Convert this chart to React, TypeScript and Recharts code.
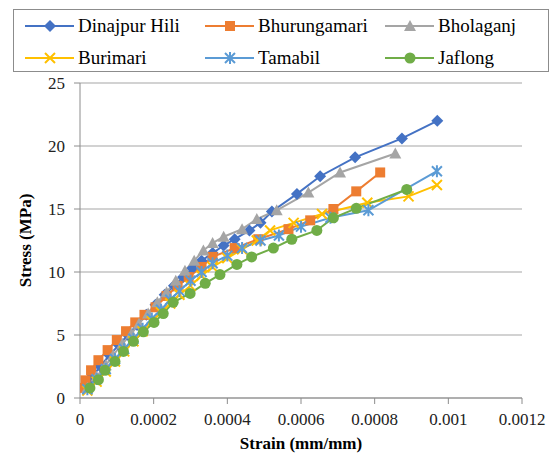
import { LineChart, Line, XAxis, YAxis, CartesianGrid } from 'recharts';

type Pt = { x: number; y: number };
const toPts = (arr: number[][]): Pt[] => arr.map(([x, y]) => ({ x, y }));

// strain (mm/mm), stress (MPa) pairs
const dinajpurHili = [
  [0.00001, 0.8], [0.00003, 1.6], [0.000055, 2.5], [0.00008, 3.4], [0.000105, 4.2],
  [0.00013, 5.0], [0.000155, 5.8], [0.00018, 6.6], [0.000205, 7.4], [0.00023, 8.2],
  [0.000255, 8.9], [0.00028, 9.6], [0.000305, 10.3], [0.00033, 10.9], [0.00036, 11.5],
  [0.00039, 12.1], [0.00042, 12.6], [0.00046, 13.3], [0.00049, 13.9], [0.000521, 14.8],
  [0.000589, 16.2], [0.000652, 17.6], [0.000747, 19.1], [0.000874, 20.6], [0.00097, 22.0],
];
const bhurungamari = [
  [0.000005, 0.8], [0.000015, 1.4], [0.00003, 2.2], [0.00005, 3.0], [0.000075, 3.8],
  [0.0001, 4.6], [0.000125, 5.3], [0.00015, 6.0], [0.000175, 6.6], [0.000205, 7.2],
  [0.000235, 8.1], [0.000265, 8.9], [0.000295, 9.6], [0.00033, 10.4], [0.00036, 11.2],
  [0.00042, 11.9], [0.000484, 12.6], [0.000566, 13.4], [0.000625, 14.1], [0.000688, 15.0],
  [0.00075, 16.4], [0.000815, 17.9],
];
const bholaganj = [
  [0.00002, 0.8], [0.000045, 1.7], [0.00007, 2.6], [0.00009, 3.4], [0.000115, 4.3],
  [0.00014, 5.1], [0.00016, 5.9], [0.000185, 6.7], [0.00021, 7.6], [0.000235, 8.4],
  [0.00026, 9.3], [0.000285, 10.1], [0.00031, 10.9], [0.000335, 11.7], [0.00036, 12.3],
  [0.00039, 12.8], [0.00044, 13.4], [0.00048, 14.2], [0.000534, 14.9], [0.00062, 16.3],
  [0.000706, 17.9], [0.000856, 19.4],
];
const burimari = [
  [0.00002, 0.6], [0.000045, 1.3], [0.00007, 2.1], [0.000095, 2.9], [0.00012, 3.7],
  [0.000145, 4.5], [0.00017, 5.3], [0.000195, 6.1], [0.00022, 6.8], [0.000245, 7.5],
  [0.00027, 8.2], [0.0003, 8.9], [0.00033, 9.7], [0.00036, 10.4], [0.0004, 11.1],
  [0.00044, 11.8], [0.00048, 12.5], [0.000516, 13.3], [0.00058, 13.9], [0.000657, 14.6],
  [0.00078, 15.5], [0.000892, 16.0], [0.000969, 16.9],
];
const tamabil = [
  [0.00002, 0.7], [0.000045, 1.5], [0.00007, 2.3], [0.000095, 3.1], [0.00012, 3.9],
  [0.000145, 4.7], [0.00017, 5.5], [0.000195, 6.3], [0.00022, 7.0], [0.000245, 7.8],
  [0.00027, 8.5], [0.0003, 9.3], [0.00033, 10.0], [0.00036, 10.7], [0.0004, 11.3],
  [0.00044, 11.9], [0.00049, 12.5], [0.00054, 12.9], [0.0006, 13.6], [0.00068, 14.3],
  [0.000783, 14.9], [0.000969, 18.0],
];
const jaflong = [
  [0.000027, 0.8], [0.00005, 1.45], [0.000068, 2.2], [0.000095, 2.9], [0.000118, 3.7],
  [0.000145, 4.5], [0.000172, 5.25], [0.000201, 6.0], [0.000226, 6.7], [0.000253, 7.6],
  [0.000299, 8.3], [0.00034, 9.1], [0.00038, 9.8], [0.000426, 10.6], [0.000466, 11.2],
  [0.000525, 11.9], [0.000575, 12.6], [0.000643, 13.3], [0.000688, 14.3], [0.00075, 15.05],
  [0.000887, 16.55],
];

const xTicks = [0, 0.0002, 0.0004, 0.0006, 0.0008, 0.001, 0.0012];
const yTicks = [0, 5, 10, 15, 20, 25];

const FONT = "'Liberation Serif', 'DejaVu Serif', serif";

/* ── marker shapes ─────────────────────────────── */
type Shape = 'diamond' | 'square' | 'triangle' | 'x' | 'star' | 'circle';

function Marker({ cx, cy, shape, color }: { cx: number; cy: number; shape: Shape; color: string }) {
  if (cx == null || cy == null) return null;
  switch (shape) {
    case 'diamond':
      return <path d={`M${cx},${cy - 6}L${cx + 6},${cy}L${cx},${cy + 6}L${cx - 6},${cy}Z`} fill={color} />;
    case 'square':
      return <rect x={cx - 5} y={cy - 5} width={10} height={10} fill={color} />;
    case 'triangle':
      return <path d={`M${cx},${cy - 6}L${cx + 6},${cy + 5}L${cx - 6},${cy + 5}Z`} fill={color} />;
    case 'x':
      return (
        <path d={`M${cx - 5},${cy - 5}L${cx + 5},${cy + 5}M${cx + 5},${cy - 5}L${cx - 5},${cy + 5}`}
          stroke={color} strokeWidth={2} />
      );
    case 'star':
      return (
        <path
          d={`M${cx - 5},${cy - 5}L${cx + 5},${cy + 5}M${cx + 5},${cy - 5}L${cx - 5},${cy + 5}M${cx},${cy - 6}L${cx},${cy + 6}`}
          stroke={color} strokeWidth={2} />
      );
    default:
      return <circle cx={cx} cy={cy} r={5.5} fill={color} />;
  }
}

const series: { name: string; data: number[][]; color: string; shape: Shape }[] = [
  { name: 'Dinajpur Hili', data: dinajpurHili, color: '#4472C4', shape: 'diamond' },
  { name: 'Bhurungamari', data: bhurungamari, color: '#ED7D31', shape: 'square' },
  { name: 'Bholaganj', data: bholaganj, color: '#A5A5A5', shape: 'triangle' },
  { name: 'Burimari', data: burimari, color: '#FFC000', shape: 'x' },
  { name: 'Tamabil', data: tamabil, color: '#5B9BD5', shape: 'star' },
  { name: 'Jaflong', data: jaflong, color: '#70AD47', shape: 'circle' },
];

function LegendBox() {
  const cols = [11, 191, 371];
  return (
    <div style={{
      position: 'absolute', left: 13, top: 9, width: 536, height: 63,
      border: '1.5px solid #8c8c8c', boxSizing: 'border-box', background: '#fff',
    }}>
      {series.map((s, i) => {
        const left = cols[i % 3];
        const top = i < 3 ? 3 : 35;
        return (
          <div key={s.name} style={{ position: 'absolute', left, top, height: 26, display: 'flex', alignItems: 'center' }}>
            <svg width={50} height={20}>
              <line x1={0} y1={10} x2={49} y2={10} stroke={s.color} strokeWidth={2} />
              <Marker cx={25} cy={10} shape={s.shape} color={s.color} />
            </svg>
            <span style={{ fontFamily: FONT, fontSize: 19, color: '#000', marginLeft: 3, whiteSpace: 'nowrap' }}>{s.name}</span>
          </div>
        );
      })}
    </div>
  );
}

export default function App() {
  return (
    <div style={{ position: 'absolute', left: 0, top: 0, width: 552, height: 453, background: '#fff', fontFamily: FONT }}>
      <LineChart width={552} height={453} margin={{ top: 83, right: 30, bottom: 0, left: 30 }}>
        <CartesianGrid horizontal vertical={false} stroke="#a6a6a6" strokeWidth={1.2} />
        <XAxis
          type="number" dataKey="x" domain={[0, 0.0012]} ticks={xTicks} interval={0}
          tickFormatter={(v: number) => String(v)}
          height={55} stroke="#8c8c8c" tickSize={6} tickMargin={9}
          tick={{ fill: '#222', fontFamily: FONT, fontSize: 17 }}
          label={{ value: 'Strain (mm/mm)', position: 'insideBottom', offset: 4, style: { fontFamily: FONT, fontSize: 17, fontWeight: 'bold', fill: '#000' } }}
          allowDataOverflow
        />
        <YAxis
          type="number" dataKey="y" domain={[0, 25]} ticks={yTicks} interval={0}
          width={50} stroke="#8c8c8c" tickSize={6} tickMargin={9}
          tick={{ fill: '#222', fontFamily: FONT, fontSize: 17 }}
          label={{ value: 'Stress (MPa)', angle: -90, position: 'insideLeft', offset: 0, dx: -5, style: { fontFamily: FONT, fontSize: 17, fontWeight: 'bold', fill: '#000', textAnchor: 'middle' } }}
        />
        {series.map((s) => (
          <Line
            key={s.name}
            data={toPts(s.data)}
            dataKey="y"
            name={s.name}
            type="linear"
            stroke={s.color}
            strokeWidth={2}
            isAnimationActive={false}
            dot={(p: any) => <Marker key={`${s.name}-${p.index}`} cx={p.cx} cy={p.cy} shape={s.shape} color={s.color} />}
            activeDot={false}
          />
        ))}
      </LineChart>
      <LegendBox />
    </div>
  );
}
